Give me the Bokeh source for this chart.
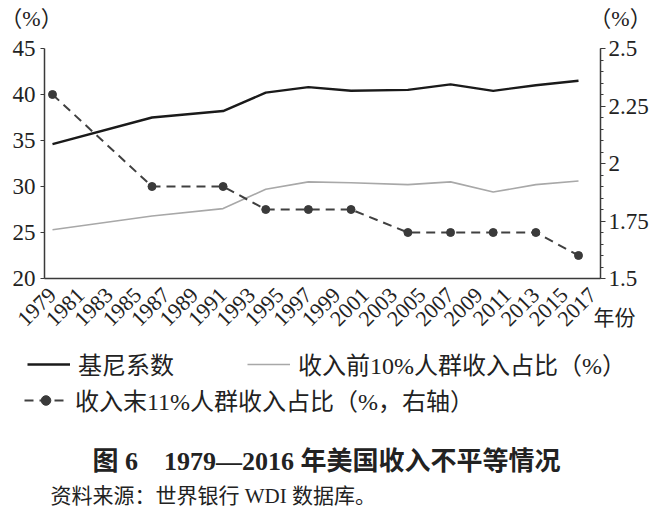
from bokeh.plotting import figure
from bokeh.models import (Range1d, LinearAxis, FixedTicker, NumeralTickFormatter,
                          Legend, LegendItem, Label)
from bokeh.embed import file_html
from bokeh.resources import INLINE
import math

# ---- data ----
years = [1979, 1986, 1991, 1994, 1997, 2000, 2004, 2007, 2010, 2013, 2016]
gini = [34.6, 37.5, 38.2, 40.2, 40.8, 40.4, 40.5, 41.1, 40.4, 41.0, 41.5]
top10 = [25.3, 26.8, 27.6, 29.7, 30.5, 30.4, 30.2, 30.5, 29.4, 30.2, 30.6]
bottom10 = [2.3, 1.9, 1.9, 1.8, 1.8, 1.8, 1.7, 1.7, 1.7, 1.7, 1.6]
x_ticks = list(range(1979, 2018, 2))
left_ticks = [20, 25, 30, 35, 40, 45]
right_ticks = [1.5, 1.75, 2, 2.25, 2.5]
right_minor = [round(1.5 + 0.05 * i, 2) for i in range(21)]

name_gini = "基尼系数"
name_top = "收入前10%人群收入占比（%）"
name_bottom = "收入末11%人群收入占比（%，右轴）"
title_text = "图 6\u30001979—2016 年美国收入不平等情况"
source_text = "资料来源：世界银行 WDI 数据库。"
unit_text = "（%）"
xname_text = "年份"

# ---- geometry (pixels) ----
W, H = 654, 517
FL, FR, FT, FB = 44, 600, 48, 278          # visible axes box
PX_FIRST, PX_LAST = 52, 578                 # where first / last year sit
ppy = (PX_LAST - PX_FIRST) / (years[-1] - years[0])
x_start = years[0] - PX_FIRST / ppy
x_end = x_start + W / ppy
x_left_axis = x_start + FL / ppy
x_right_axis = x_start + FR / ppy

L_LO, L_HI = 20, 45
R_LO, R_HI = 1.5, 2.5
ppl = (FB - FT) / (L_HI - L_LO)
ppr = (FB - FT) / (R_HI - R_LO)
y_start = L_LO - (H - FB) / ppl
y_end = L_HI + FT / ppl
yr_start = R_LO - (H - FB) / ppr
yr_end = R_HI + FT / ppr

FONT = "Liberation Serif, Noto Sans CJK SC"
AX = "#3a3a3a"
TXT = "#222222"

p = figure(width=W, height=H, output_backend="svg", toolbar_location=None,
           x_range=Range1d(x_start, x_end), y_range=Range1d(y_start, y_end),
           min_border=0, x_axis_location=None, y_axis_location=None)
p.outline_line_color = None
p.xgrid.visible = False
p.ygrid.visible = False
p.extra_y_ranges = {"right": Range1d(yr_start, yr_end)}

xax = LinearAxis(ticker=FixedTicker(ticks=x_ticks), fixed_location=L_LO,
                 bounds=(x_left_axis, x_right_axis))
xax.major_label_orientation = math.pi / 4
xax.major_tick_out = 0
xax.major_tick_in = 0
xax.minor_tick_out = 0
xax.major_label_standoff = 13
xax.major_label_text_font = FONT
xax.major_label_text_font_size = "22px"
xax.major_label_text_color = TXT
xax.axis_line_color = AX
xax.axis_line_width = 1.5
p.add_layout(xax, "below")

lax = LinearAxis(ticker=FixedTicker(ticks=left_ticks), fixed_location=x_left_axis,
                 bounds=(L_LO, L_HI))
lax.major_tick_out = 4
lax.major_tick_in = 0
lax.minor_tick_out = 0
lax.major_label_standoff = 5
lax.major_label_text_font = FONT
lax.major_label_text_font_size = "23px"
lax.major_label_text_color = TXT
lax.axis_line_color = AX
lax.axis_line_width = 1.5
lax.major_tick_line_color = AX
p.add_layout(lax, "left")

rax = LinearAxis(y_range_name="right", fixed_location=x_right_axis,
                 bounds=(R_LO, R_HI),
                 ticker=FixedTicker(ticks=right_ticks, minor_ticks=right_minor),
                 formatter=NumeralTickFormatter(format="0.[00]"))
rax.major_tick_out = 5
rax.major_tick_in = 0
rax.minor_tick_out = 3
rax.minor_tick_in = 0
rax.major_label_standoff = 3
rax.major_label_text_font = FONT
rax.major_label_text_font_size = "23px"
rax.major_label_text_color = TXT
rax.axis_line_color = AX
rax.axis_line_width = 1.5
rax.major_tick_line_color = AX
rax.minor_tick_line_color = AX
p.add_layout(rax, "right")

r_gini = p.line(years, gini, line_color="#1a1a1a", line_width=2.4)
r_top = p.line(years, top10, line_color="#a8a8a8", line_width=1.6)
r_bot_l = p.line(years, bottom10, y_range_name="right", line_color="#404040",
                 line_width=2, line_dash="9 6")
r_bot_p = p.scatter(years, bottom10, y_range_name="right", size=8,
                    fill_color="#3a3a3a", line_color="#3a3a3a")


def mk_legend(items, x, y_center):
    lg = Legend(items=items, location=(x, H - y_center - 12), orientation="horizontal")
    lg.padding = 0
    lg.margin = 0
    lg.spacing = 0
    lg.border_line_color = None
    lg.background_fill_alpha = 0
    lg.label_text_font = FONT
    lg.label_text_font_size = "24px"
    lg.label_text_color = TXT
    lg.glyph_width = 43
    lg.glyph_height = 24
    lg.label_height = 24
    lg.label_standoff = 8
    p.add_layout(lg, "center")
    return lg


mk_legend([LegendItem(label=name_gini, renderers=[r_gini])], 27, 369)
mk_legend([LegendItem(label=name_top, renderers=[r_top])], 247, 369)
mk_legend([LegendItem(label=name_bottom, renderers=[r_bot_l, r_bot_p])], 24, 405)


def mk_label(text, x, y_page, size, align="left", bold=False):
    lb = Label(x=x, y=H - y_page, x_units="screen", y_units="screen", text=text,
               text_font=FONT, text_font_size=size, text_align=align,
               text_baseline="middle", text_color=TXT,
               text_font_style="bold" if bold else "normal")
    p.add_layout(lb)
    return lb


mk_label(unit_text, 31, 18, "22px", align="center")
mk_label(unit_text, 620, 18, "22px", align="center")
mk_label(xname_text, 593, 317, "21px")
mk_label(title_text, 326, 461, "26px", align="center", bold=True)
mk_label(source_text, 50, 495, "21px")

open("out.html", "w").write(file_html(p, INLINE))
